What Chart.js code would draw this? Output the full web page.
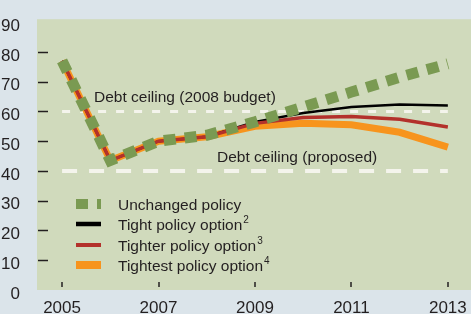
<!DOCTYPE html>
<html>
<head>
<meta charset="utf-8">
<script src="https://cdn.jsdelivr.net/npm/chart.js@4"></script>
<style>
  body { margin: 0; background: #dbe4ea; }
  canvas { display: block; }
</style>
</head>
<body>
<canvas id="chart" width="471" height="314"></canvas>
<script>
// ================= Data =================
const years = [2005, 2006, 2007, 2008, 2009, 2010, 2011, 2012, 2013];
const unchanged = [77, 43.5, 50, 52, 56.5, 61.5, 66.5, 71.5, 76];
const tight     = [77, 43.5, 50, 51.5, 56.5, 59.5, 61.5, 62.3, 62];
const tighter   = [77, 43.5, 50, 51.5, 56, 58, 58.3, 57.4, 54.8];
const tightest  = [77, 43.5, 50, 51.5, 55, 56, 55.5, 53, 48];
const xTicks = [2005, 2007, 2009, 2011, 2013];
const yTicks = [0, 10, 20, 30, 40, 50, 60, 70, 80, 90];
const ceilings = [60, 40];
const ceilingLabels = ["Debt ceiling (2008 budget)", "Debt ceiling (proposed)"];
const seriesNames = ["Unchanged policy", "Tight policy option", "Tighter policy option", "Tightest policy option"];
const noteMarks = ["", "2", "3", "4"];

const FONT = "'Liberation Sans Narrow', 'Liberation Sans', Arial, sans-serif";
const INK = "#231f20";
const colors = ["#7a9a52", "#000000", "#b3312b", "#f7941d"];

function pts(vals) {
    return vals.map((v, i) => ({ x: years[i], y: v }));
}

// ================= Plugin: backgrounds, ceilings, ticks, legend =================
const decor = {
    id: "decor",
    beforeDraw(chart) {
        const { ctx, chartArea: a } = chart;
        ctx.save();
        ctx.fillStyle = "#dbe4ea";
        ctx.fillRect(0, 0, chart.width, chart.height);
        ctx.fillStyle = "#d0dabc";
        ctx.fillRect(a.left, a.top, a.right - a.left, a.bottom - a.top);
        ctx.restore();
    },
    beforeDatasetsDraw(chart) {
        const { ctx, chartArea: a, scales: { x, y } } = chart;
        ctx.save();
        // tick marks inside plot
        ctx.strokeStyle = INK;
        ctx.lineWidth = 1.5;
        for (let v = 10; v <= 80; v += 10) {
            const py = Math.round(y.getPixelForValue(v)) + 0.5;
            ctx.beginPath();
            ctx.moveTo(a.left + 1, py);
            ctx.lineTo(a.left + 11, py);
            ctx.stroke();
        }
        xTicks.forEach(t => {
            const px = Math.round(x.getPixelForValue(t));
            ctx.beginPath();
            ctx.moveTo(px, a.bottom - 8);
            ctx.lineTo(px, a.bottom - 3);
            ctx.stroke();
        });
        // debt ceilings (two different dash styles)
        ctx.strokeStyle = "#f4f4ec";
        const dashes = [[8, 10], [15, 12]];
        const widths = [3, 4];
        ceilings.forEach((c, i) => {
            const py = y.getPixelForValue(c);
            ctx.lineWidth = widths[i];
            ctx.setLineDash(dashes[i]);
            ctx.beginPath();
            ctx.moveTo(x.getPixelForValue(2005), py);
            ctx.lineTo(x.getPixelForValue(2013), py);
            ctx.stroke();
        });
        ctx.setLineDash([]);
        ctx.fillStyle = INK;
        ctx.font = "15.5px " + FONT;
        ctx.textBaseline = "alphabetic";
        ctx.fillText(ceilingLabels[0], 94, y.getPixelForValue(60) - 9);
        ctx.fillText(ceilingLabels[1], 217, y.getPixelForValue(40) - 9);
        ctx.restore();
    },
    afterDraw(chart) {
        const { ctx } = chart;
        ctx.save();
        const rows = [210, 230, 251, 271];
        rows.forEach((by, i) => {
            const my = by - 6;
            ctx.strokeStyle = colors[i];
            ctx.lineCap = "butt";
            if (i === 0) {
                ctx.lineWidth = 10;
                ctx.setLineDash([12, 9]);
            } else {
                ctx.lineWidth = [0, 4.5, 4, 8][i];
                ctx.setLineDash([]);
            }
            ctx.beginPath();
            ctx.moveTo(76, my);
            ctx.lineTo(101, my);
            ctx.stroke();
            ctx.setLineDash([]);
            ctx.fillStyle = INK;
            ctx.font = "15.5px " + FONT;
            ctx.fillText(seriesNames[i], 118, by);
            if (noteMarks[i]) {
                const w = ctx.measureText(seriesNames[i]).width;
                ctx.font = "10px " + FONT;
                ctx.fillText(noteMarks[i], 118 + w + 1, by - 7);
            }
        });
        ctx.restore();
    }
};

// ================= Chart =================
const ctx = document.getElementById("chart").getContext("2d");
new Chart(ctx, {
    type: "line",
    data: {
        datasets: [
            { label: seriesNames[0], data: pts(unchanged), borderColor: colors[0], borderWidth: 11,
              borderDash: [12, 9], borderCapStyle: "butt", order: 0 },
            { label: seriesNames[1], data: pts(tight), borderColor: colors[1], borderWidth: 2.5, order: 2 },
            { label: seriesNames[2], data: pts(tighter), borderColor: colors[2], borderWidth: 3.5, order: 1 },
            { label: seriesNames[3], data: pts(tightest), borderColor: colors[3], borderWidth: 7, order: 3 }
        ]
    },
    options: {
        responsive: false,
        animation: false,
        devicePixelRatio: 1,
        layout: { padding: { top: 13, right: 0, left: 0, bottom: 0 } },
        elements: { point: { radius: 0 }, line: { tension: 0, fill: false } },
        plugins: { legend: { display: false }, tooltip: { enabled: false } },
        scales: {
            x: {
                type: "linear",
                min: 2004.48,
                max: 2013.48,
                grid: { display: false },
                border: { display: false },
                afterBuildTicks: s => { s.ticks = xTicks.map(v => ({ value: v })); },
                afterFit: s => { s.height = 24; },
                ticks: { color: INK, font: { family: FONT, size: 17 }, padding: 0, maxRotation: 0,
                         callback: v => String(v) }
            },
            y: {
                min: 0,
                max: 91,
                grid: { display: false },
                border: { display: false },
                afterBuildTicks: s => { s.ticks = yTicks.map(v => ({ value: v })); },
                afterFit: s => { s.width = 37; },
                ticks: { color: INK, font: { family: FONT, size: 17 }, padding: 9, labelOffset: 4 }
            }
        }
    },
    plugins: [decor]
});
</script>
</body>
</html>
